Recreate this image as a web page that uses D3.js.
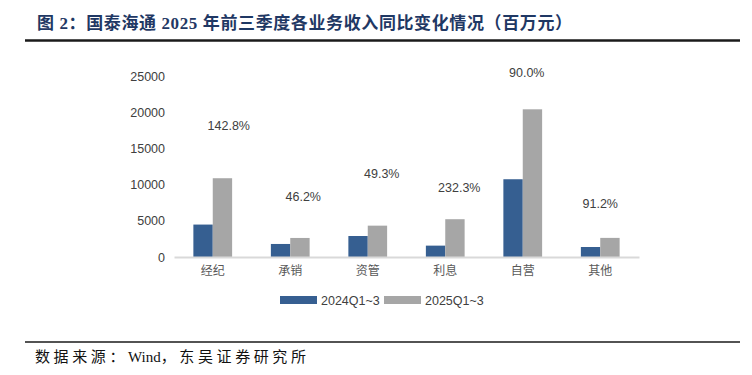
<!DOCTYPE html>
<html>
<head>
<meta charset="utf-8">
<script src="https://cdn.jsdelivr.net/npm/d3@7"></script>
<style>
  body { margin: 0; background: #fff; }
  svg { display: block; }
</style>
</head>
<body>
<div id="chart"></div>
<script>
// data (百万元)
const categories = ["经纪", "承销", "资管", "利息", "自营", "其他"];
const series = ["2024Q1~3", "2025Q1~3"];
const values2024 = [4480, 1800, 2900, 1570, 10740, 1380];
const values2025 = [10880, 2630, 4330, 5220, 20400, 2640];
const growth = ["142.8%", "46.2%", "49.3%", "232.3%", "90.0%", "91.2%"];
// height of each growth label, in axis units
const growthAt = [18100, 8300, 11500, 9500, 25400, 7300];
const yTicks = [0, 5000, 10000, 15000, 20000, 25000];

const width = 752, height = 375;
const colors = ["#365f91", "#a6a6a6"];
const latin = "'Liberation Sans', Arial, 'Noto Sans CJK SC', sans-serif";
const cjk = "'Noto Sans CJK SC', sans-serif";
const serif = "'Liberation Serif', 'Times New Roman', 'Noto Sans CJK SC', serif";

const svg = d3.select("#chart").append("svg")
  .attr("width", width)
  .attr("height", height);

// title + rules
svg.append("text")
  .attr("x", 37)
  .attr("y", 23)
  .attr("dominant-baseline", "central")
  .attr("font-family", serif)
  .attr("font-weight", "bold")
  .attr("font-size", "17px")
  .attr("fill", "#1f3864")
  .attr("textLength", 535)
  .attr("lengthAdjust", "spacing")
  .text("图 2：国泰海通 2025 年前三季度各业务收入同比变化情况（百万元）");

svg.append("line")
  .attr("x1", 25).attr("x2", 740)
  .attr("y1", 40.5).attr("y2", 40.5)
  .attr("stroke", "#1a1a1a")
  .attr("stroke-width", 2.5);

svg.append("line")
  .attr("x1", 25).attr("x2", 740)
  .attr("y1", 342).attr("y2", 342)
  .attr("stroke", "#1a1a1a")
  .attr("stroke-width", 1.5);

// source line: CJK spaced out, "Wind" kept tight
const source = svg.append("text")
  .attr("x", 35)
  .attr("y", 357)
  .attr("dominant-baseline", "central")
  .attr("font-family", serif)
  .attr("font-size", "15px")
  .attr("fill", "#111");
source.append("tspan").attr("letter-spacing", 3.6).text("数据来源：");
source.append("tspan").attr("letter-spacing", 0).text("Wind");
source.append("tspan").attr("letter-spacing", 3.6).text("，东吴证券研究所");

// scales
const x = d3.scaleBand()
  .domain(categories)
  .range([174, 639])
  .paddingInner(0.5)
  .paddingOuter(0.25);
const x1 = d3.scaleBand()
  .domain(series)
  .range([0, x.bandwidth()]);
const y = d3.scaleLinear()
  .domain([0, 25000])
  .range([257, 76]);

// y axis, labels only
const yAxis = svg.append("g")
  .attr("transform", "translate(170,0)")
  .call(d3.axisLeft(y).tickValues(yTicks).tickSize(0).tickPadding(5).tickFormat(d3.format("d")));
yAxis.select(".domain").remove();
yAxis.selectAll("text")
  .attr("font-family", latin)
  .attr("font-size", "12.5px")
  .attr("fill", "#404040");

// bars
const rows = categories.map((c, i) => ({ cat: c, vals: [values2024[i], values2025[i]] }));
const groups = svg.append("g").selectAll("g")
  .data(rows)
  .join("g")
  .attr("transform", d => `translate(${x(d.cat)},0)`);
groups.selectAll("rect")
  .data(d => d.vals.map((v, j) => ({ s: series[j], v: v, j: j })))
  .join("rect")
  .attr("x", d => x1(d.s))
  .attr("width", x1.bandwidth())
  .attr("y", d => y(d.v))
  .attr("height", d => y(0) - y(d.v))
  .attr("fill", d => colors[d.j]);

// x axis line + labels
const xAxis = svg.append("g")
  .attr("transform", `translate(0,${y(0)})`)
  .call(d3.axisBottom(x).tickSize(0).tickPadding(9));
xAxis.select(".domain")
  .attr("stroke", "#d9d9d9")
  .attr("stroke-width", 2);
xAxis.selectAll("text")
  .attr("font-family", cjk)
  .attr("font-size", "12px")
  .attr("fill", "#595959");

// growth labels (placed by hand in the original)
const labelShift = [16, 13, 14, 14, 4, 0];
svg.append("g").selectAll("text")
  .data(growth)
  .join("text")
  .attr("x", (d, i) => x(categories[i]) + x.bandwidth() / 2 + labelShift[i])
  .attr("y", (d, i) => y(growthAt[i]))
  .attr("text-anchor", "middle")
  .attr("dominant-baseline", "central")
  .attr("font-family", latin)
  .attr("font-size", "12.5px")
  .attr("fill", "#404040")
  .text(d => d);

// legend
const legend = svg.append("g").attr("transform", "translate(280,296)");
const legendX = [0, 104];
series.forEach((s, i) => {
  legend.append("rect")
    .attr("x", legendX[i]).attr("y", 0)
    .attr("width", 37).attr("height", 8)
    .attr("fill", colors[i]);
  legend.append("text")
    .attr("x", legendX[i] + 41).attr("y", 4.5)
    .attr("dominant-baseline", "central")
    .attr("font-family", latin)
    .attr("font-size", "12.5px")
    .attr("fill", "#404040")
    .text(s);
});
</script>
</body>
</html>
